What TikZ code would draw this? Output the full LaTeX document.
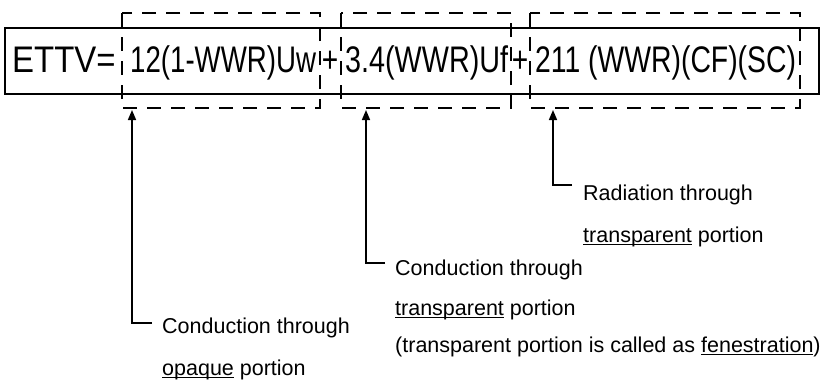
\documentclass[tikz,border=0pt]{standalone}
\usepackage{fontspec}
\setmainfont{Liberation Sans}
\usetikzlibrary{arrows.meta}
\newcommand\myul[1]{\setbox0\hbox{#1}\rlap{\rule[-2.6pt]{\wd0}{0.9pt}}\box0\relax}
\tikzset{
  big/.style={anchor=base west, inner sep=0pt, font=\fontsize{37pt}{40pt}\selectfont},
  plus/.style={anchor=base, inner sep=0pt, font=\fontsize{37pt}{40pt}\selectfont},
  lab/.style={anchor=base west, inner sep=0pt, font=\fontsize{21.5pt}{24pt}\selectfont},
  dbox/.style={draw, line width=2.8pt, dash pattern=on 14pt off 10pt},
  conn/.style={draw, line width=1.6pt, -{Triangle[width=8pt,length=10pt]}}
}
\begin{document}
\begin{tikzpicture}[x=1pt,y=-1pt]
\useasboundingbox (0,0) rectangle (830,380);
% outer solid box
\draw[line width=1.4pt] (5,28) rectangle (819,94);
% dashed boxes
\draw[dbox] (122,13) rectangle (320,108);
\draw[dbox] (341,13) rectangle (511,108);
\draw[dbox] (530,13) rectangle (800,108);
% formula
\node[big] (ettv) at (12,72) {\scalebox{0.89}[1]{ETTV=}};
\node[big] (f1) at (130,72) {\scalebox{0.747}[1]{12(1-WWR)Uw}};
\node[plus] (p1) at (330,72) {\scalebox{0.76}[1]{+}};
\node[big] (f2) at (345,72) {\scalebox{0.777}[1]{3.4(WWR)Uf}};
\node[plus] (p2) at (520,72) {\scalebox{0.76}[1]{+}};
\node[big] (f3) at (535,72) {\scalebox{0.766}[1]{211 (WWR)(CF)(SC)}};
% labels
\node[lab] (r1) at (583,200) {Radiation through};
\node[lab] (r2) at (583,242) {\myul{transparent} portion};
\node[lab] (c1) at (395,275) {Conduction through};
\node[lab] (c2) at (395,315) {\myul{transparent} portion};
\node[lab] (c3) at (395,352) {(transparent portion is called as \myul{fenestration})};
\node[lab] (o1) at (162,333) {Conduction through};
\node[lab] (o2) at (162,375) {\myul{opaque} portion};
% connectors
\coordinate (e1) at (152,323); \coordinate (t1) at (132,110);
\coordinate (e2) at (385,263); \coordinate (t2) at (366,110);
\coordinate (e3) at (572,185); \coordinate (t3) at (553,110);
\draw[conn] (e1) -| (t1);
\draw[conn] (e2) -| (t2);
\draw[conn] (e3) -| (t3);
\end{tikzpicture}
\end{document}
